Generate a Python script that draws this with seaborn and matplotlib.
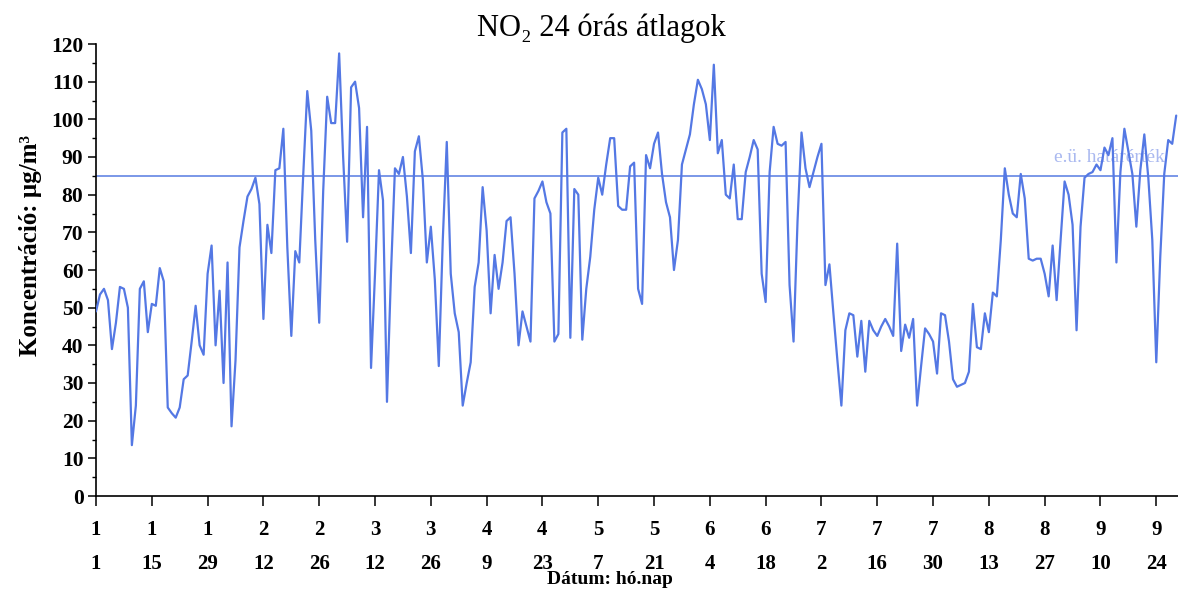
import numpy as np
import pandas as pd
import matplotlib
matplotlib.use("Agg")
import matplotlib.pyplot as plt
import seaborn as sns
from matplotlib.ticker import MultipleLocator

# ---- data: daily NO2 24-hour means (µg/m3), Jan 1 onward ----
no2 = [
    49, 53.5, 55, 52, 39, 46, 55.5, 55, 50, 13.5,
    24, 55, 57, 43.5, 51, 50.5, 60.5, 57, 23.5, 22,
    20.8, 23.5, 31, 32, 41, 50.5, 40, 37.5, 59, 66.5,
    40, 54.5, 30, 62, 18.5, 36, 66, 73, 79.5, 81.5,
    84.5, 77.5, 47, 72, 64.5, 86.5, 87, 97.5, 66, 42.5,
    65, 62, 85.5, 107.5, 97, 68, 46, 81, 106, 99,
    99, 117.5, 90, 67.5, 108.5, 110, 103, 74, 98, 34,
    59, 86.5, 78.5, 25, 59, 87, 85.5, 90, 79.5, 64.5,
    91.5, 95.5, 84, 62, 71.5, 57.5, 34.5, 68, 94, 59,
    48.5, 43.5, 24, 30, 35.5, 55.5, 62, 82, 70.5, 48.5,
    64, 55, 62, 73, 74, 59, 40, 49, 45, 41,
    79, 81, 83.5, 78, 75, 41, 43, 96.5, 97.5, 42,
    81.5, 80, 41.5, 55, 63.5, 76, 84.5, 80, 88, 95,
    95, 77, 76, 76, 87.5, 88.5, 55, 51, 90.5, 87,
    93.5, 96.5, 85.5, 78, 74, 60, 68, 88, 92, 96,
    104, 110.5, 108, 104, 94.5, 114.5, 91, 94.5, 80, 79,
    88, 73.5, 73.5, 86, 90, 94.5, 92, 59, 51.5, 86,
    98, 93.5, 93, 94, 56, 41, 73, 96.5, 87, 82,
    86, 90, 93.5, 56, 61.5, 48.5, 36, 24, 44, 48.5,
    48, 37, 46.5, 33, 46.5, 44, 42.5, 45, 47, 45,
    42.5, 67, 38.5, 45.5, 42, 47, 24, 34.5, 44.5, 43,
    41, 32.5, 48.5, 48, 41, 31, 29, 29.5, 30, 33,
    51, 39.5, 39, 48.5, 43.5, 54, 53, 68, 87, 80,
    75, 74, 85.5, 79, 63, 62.5, 63, 63, 59, 53,
    66.5, 52, 68, 83.5, 80, 72, 44, 71.5, 84.5, 85.5,
    86, 88, 86.5, 92.5, 90.5, 95, 62, 86, 97.5, 91.5,
    85.5, 71.5, 86.5, 96, 84.5, 68, 35.5, 63.5, 85.5, 94.5,
    93.5, 101,
]

tick_months = [1, 1, 1, 2, 2, 3, 3, 4, 4, 5, 5, 6, 6, 7, 7, 7, 8, 8, 9, 9]
tick_days = [1, 15, 29, 12, 26, 12, 26, 9, 23, 7, 21, 4, 18, 2, 16, 30, 13, 27, 10, 24]
month_lengths = [31, 28, 31, 30, 31, 30, 31, 31, 30, 31, 30, 31]

limit_value = 85
limit_label = "e.ü. határérték"
title_text = "NO₂ 24 órás átlagok"
y_label = "Koncentráció: µg/m³"
x_label = "Dátum: hó.nap"

# ---- helpers ----
month_start = np.concatenate([[0], np.cumsum(month_lengths)[:-1]])
tick_pos = [int(month_start[m - 1] + d - 1) for m, d in zip(tick_months, tick_days)]
tick_text = [f"{m}\n{d}" for m, d in zip(tick_months, tick_days)]

df = pd.DataFrame({"nap": np.arange(len(no2)), "NO2": no2})

sns.set_theme(style="ticks")
plt.rcParams["font.family"] = ["Liberation Serif", "DejaVu Serif"]

W, H = 1178, 590
fig = plt.figure(figsize=(W / 100, H / 100), dpi=100)
ax_left, ax_right, ax_top, ax_bottom = 96, 1178, 44, 496
ax = fig.add_axes([ax_left / W, 1 - ax_bottom / H, (ax_right - ax_left) / W, (ax_bottom - ax_top) / H])

line_color = "#5478e4"
ax.axhline(limit_value, color="#6f8fe6", linewidth=1.3, zorder=1)
ax.text(240.3, 90.0, limit_label, color="#aab9f0", fontsize=14, va="center", ha="left",
        clip_on=True, zorder=1)
sns.lineplot(data=df, x="nap", y="NO2", ax=ax, color=line_color, linewidth=1.6, zorder=3)

ax.set_xlim(0, (ax_right - ax_left) / 3.986)
ax.set_ylim(0, 120)

ax.yaxis.set_major_locator(MultipleLocator(10))
ax.yaxis.set_minor_locator(MultipleLocator(5))
ax.tick_params(axis="y", which="major", direction="out", length=6, width=1.1, labelsize=15.5,
               left=True, color="black", pad=3)
ax.tick_params(axis="y", which="minor", direction="out", length=3, width=1.0, left=True, color="black")

ax.set_xticks(tick_pos)
ax.set_xticklabels(tick_text, linespacing=1.95)
ax.tick_params(axis="x", which="major", direction="out", length=7, width=1.1, labelsize=15,
               bottom=True, color="black", pad=10)

for lbl in ax.get_xticklabels() + ax.get_yticklabels():
    lbl.set_fontweight("bold")
    lbl.set_color("black")

for side in ["top", "right"]:
    ax.spines[side].set_visible(False)
for side in ["left", "bottom"]:
    ax.spines[side].set_color("black")
    ax.spines[side].set_linewidth(1.2)

ax.set_title(title_text, fontsize=22, x=0.467, pad=6, color="black")
ax.set_ylabel(y_label, fontsize=18, fontweight="bold", color="black")
ax.yaxis.set_label_coords(-0.05, 0.555)
ax.set_xlabel(x_label, fontsize=14, fontweight="bold", color="black")
ax.xaxis.set_label_coords(0.475, -0.166)

fig.savefig("out.png", dpi=100, facecolor="white")
